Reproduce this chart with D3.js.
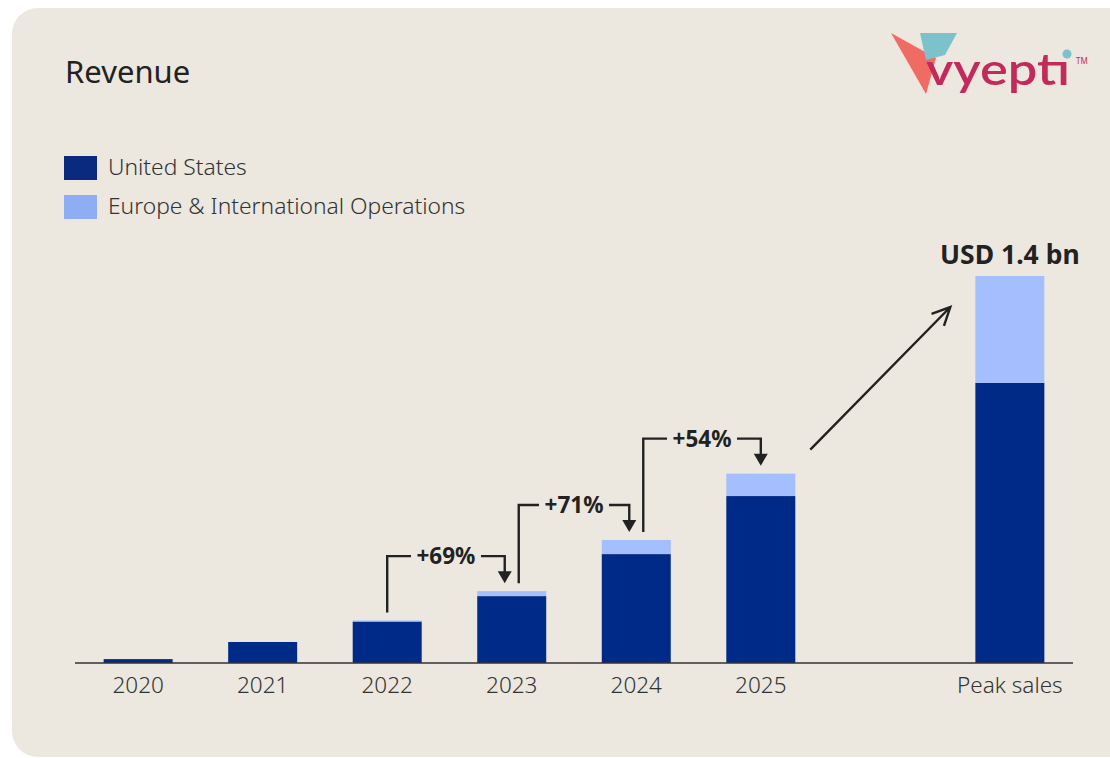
<!DOCTYPE html>
<html>
<head>
<meta charset="utf-8">
<script src="https://cdn.jsdelivr.net/npm/d3@7"></script>
<style>
  body { margin: 0; background: #ffffff; }
  svg { display: block; font-family: "Noto Sans", "Open Sans", sans-serif; }
</style>
</head>
<body>
<svg id="chart" width="1110" height="758"></svg>
<script>
// revenue in USD million
const categories = ["2020", "2021", "2022", "2023", "2024", "2025", "gap", "Peak sales"];
const usValues = [14, 76, 150, 242, 394, 604, null, 1013];
const euValues = [0, 0, 4, 18, 51, 81, null, 387];
const growth = [
    { from: "2022", to: "2023", label: "+69%" },
    { from: "2023", to: "2024", label: "+71%" },
    { from: "2024", to: "2025", label: "+54%" }
];
const peakLabel = "USD 1.4 bn";
const seriesNames = ["United States", "Europe & International Operations"];

(function() {
    const svg = d3.select("#chart");
    const usColor = "#002a87", euColor = "#a5befd", ink = "#222222";

    // panel
    svg.append("rect")
        .attr("x", 12).attr("y", 8)
        .attr("width", 1130).attr("height", 749)
        .attr("rx", 26)
        .attr("fill", "#ece8df");

    svg.append("text")
        .attr("x", 65).attr("y", 83)
        .attr("font-size", 31)
        .attr("fill", ink)
        .text("Revenue");

    // logo
    const logo = svg.append("g");
    logo.append("polygon")
        .attr("points", "891,33 936,58 926,94")
        .attr("fill", "#ef6b63");
    logo.append("polygon")
        .attr("points", "920,33 957,33 945,55 926,60")
        .attr("fill", "#7cc1cb");
    logo.append("text")
        .attr("x", 926).attr("y", 85)
        .attr("font-size", 44).attr("font-weight", 600)
        .attr("font-family", "Lato, sans-serif")
        .attr("fill", "#c22a5c")
        .attr("textLength", 144).attr("lengthAdjust", "spacingAndGlyphs")
        .text("vyept\u0131");
    logo.append("circle")
        .attr("cx", 1067).attr("cy", 54).attr("r", 4.5)
        .attr("fill", "#7cc1cb");
    logo.append("text")
        .attr("x", 1076).attr("y", 64)
        .attr("font-size", 8).attr("fill", "#c22a5c")
        .text("TM");

    // legend
    const legend = svg.append("g")
        .selectAll("g")
        .data(seriesNames)
        .join("g")
        .attr("transform", (d, i) => `translate(64,${156 + i * 39})`);
    legend.append("rect")
        .attr("width", 33).attr("height", 24)
        .attr("fill", (d, i) => i == 0 ? "#0a2a80" : "#8fadf3");
    legend.append("text")
        .attr("x", 44).attr("y", 19)
        .attr("font-size", 22.8).attr("font-weight", 300)
        .attr("fill", "#333")
        .text(d => d);

    // scales
    const x = d3.scaleBand()
        .domain(categories)
        .range([75, 1073])
        .paddingInner(0.446)
        .paddingOuter(0.23);
    const y = d3.scaleLinear()
        .domain([0, 1400])
        .range([663, 276]);

    const rows = categories.map((c, i) => ({
        cat: c, us: usValues[i], eu: euValues[i],
        total: usValues[i] == null ? null : usValues[i] + euValues[i]
    })).filter(d => d.us != null);
    const byCat = new Map(rows.map(d => [d.cat, d]));

    svg.append("g").selectAll("rect")
        .data(rows)
        .join("rect")
        .attr("x", d => x(d.cat))
        .attr("width", x.bandwidth())
        .attr("y", d => y(d.us))
        .attr("height", d => y(0) - y(d.us))
        .attr("fill", usColor);

    svg.append("g").selectAll("rect")
        .data(rows.filter(d => d.eu > 0))
        .join("rect")
        .attr("x", d => x(d.cat))
        .attr("width", x.bandwidth())
        .attr("y", d => y(d.total))
        .attr("height", d => y(d.us) - y(d.total))
        .attr("fill", euColor);

    // axis
    const axis = svg.append("g")
        .attr("transform", `translate(0,${y(0)})`)
        .call(d3.axisBottom(x).tickSize(0).tickPadding(14)
            .tickFormat(d => d == "gap" ? "" : d));
    axis.select(".domain")
        .attr("d", "M75,0H1073")
        .attr("stroke", "#333").attr("stroke-width", 1.6);
    axis.selectAll("text")
        .attr("font-family", "Noto Sans, sans-serif")
        .attr("font-size", 22.5).attr("font-weight", 300)
        .attr("fill", "#333");

    // growth brackets
    const mid = c => x(c) + x.bandwidth() / 2;
    const br = svg.append("g");
    growth.forEach((g, i) => {
        const a = byCat.get(g.from), b = byCat.get(g.to);
        const x0 = mid(g.from) + (i == 0 ? 0 : 7);
        const x1 = mid(g.to) - (i == growth.length - 1 ? 0 : 7);
        const y0 = y(a.total) - 8;
        const yTip = y(b.total) - 8;
        const level = y(b.total) - 35;
        const tx = (x0 + x1) / 2;
        const half = 35;
        br.append("path")
            .attr("d", `M${x0},${y0}V${level}H${tx - half}M${tx + half},${level}H${x1}V${yTip - 10}`)
            .attr("fill", "none")
            .attr("stroke", ink).attr("stroke-width", 2.4);
        br.append("path")
            .attr("d", `M${x1 - 7},${yTip - 12}L${x1 + 7},${yTip - 12}L${x1},${yTip}Z`)
            .attr("fill", ink);
        br.append("text")
            .attr("x", tx).attr("y", level + 8)
            .attr("text-anchor", "middle")
            .attr("font-size", 22.5).attr("font-weight", 700)
            .attr("fill", ink)
            .text(g.label);
    });

    // arrow to peak sales
    const last = byCat.get("2025"), peak = byCat.get("Peak sales");
    const ax0 = x("2025") + x.bandwidth() + 15, ay0 = y(last.total) - 24;
    const ax1 = x("Peak sales") - 25, ay1 = y(peak.total) + 31;
    const ang = Math.atan2(ay1 - ay0, ax1 - ax0);
    const headLen = 20, spread = 0.45;
    br.append("path")
        .attr("d", `M${ax0},${ay0}L${ax1},${ay1}` +
            `M${ax1 - headLen * Math.cos(ang - spread)},${ay1 - headLen * Math.sin(ang - spread)}` +
            `L${ax1},${ay1}` +
            `L${ax1 - headLen * Math.cos(ang + spread)},${ay1 - headLen * Math.sin(ang + spread)}`)
        .attr("fill", "none")
        .attr("stroke", ink).attr("stroke-width", 2.4)
        .attr("stroke-linejoin", "miter");

    svg.append("text")
        .attr("x", mid("Peak sales")).attr("y", y(peak.total) - 12)
        .attr("text-anchor", "middle")
        .attr("font-size", 26.5).attr("font-weight", 700)
        .attr("fill", ink)
        .text(peakLabel);
})();
</script>
</body>
</html>
